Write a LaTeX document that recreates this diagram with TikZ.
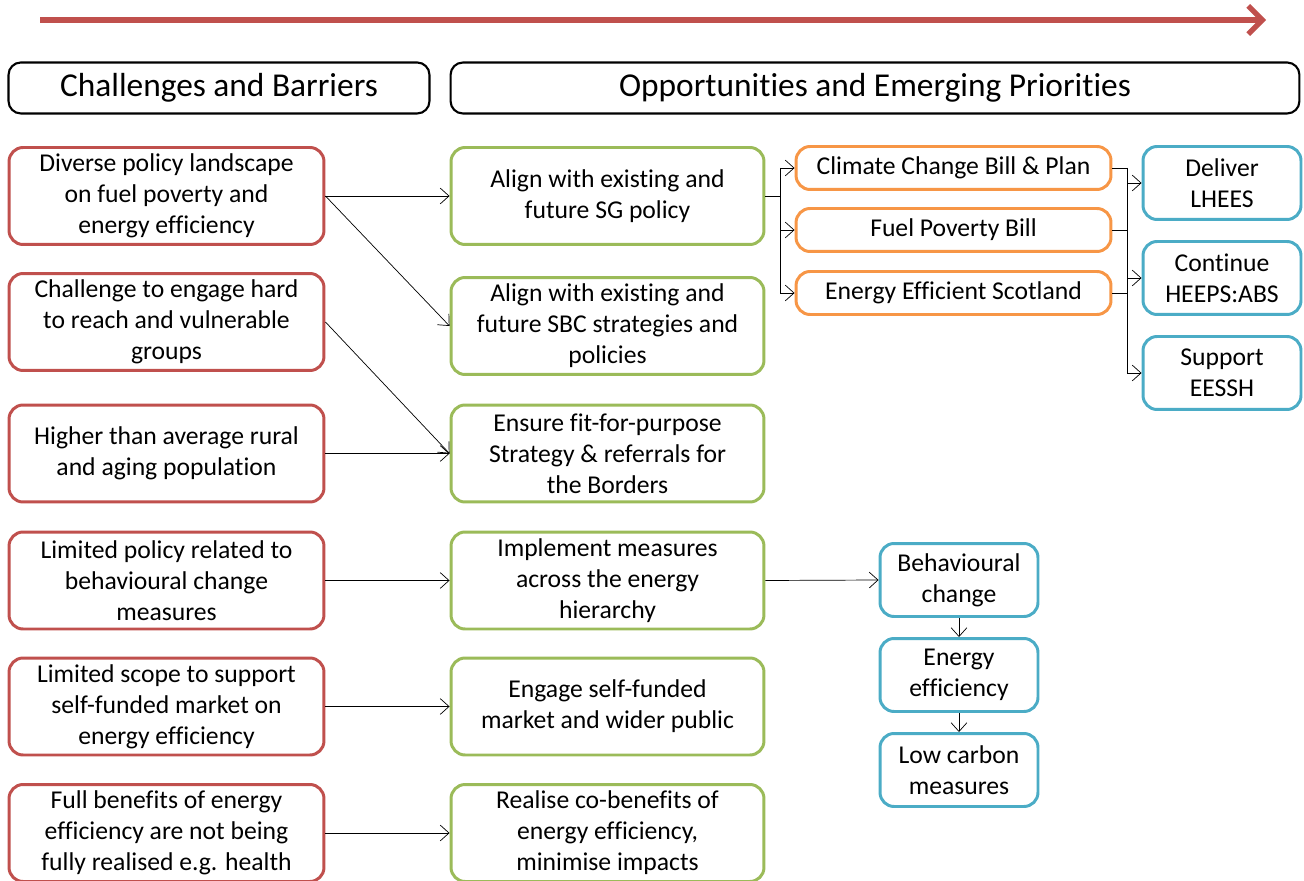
\documentclass[tikz,border=0pt]{standalone}
\usepackage{fontspec}
\setmainfont{Carlito}[Ligatures=NoCommon]
\usepackage{xcolor}
\usetikzlibrary{arrows.meta}

\definecolor{barrier}{RGB}{192,80,77}
\definecolor{priority}{RGB}{155,187,89}
\definecolor{policy}{RGB}{247,150,70}
\definecolor{action}{RGB}{75,172,198}

\tikzset{
    box/.style={draw, rounded corners=8pt, line width=1.7pt, fill=white, align=center, inner sep=2pt,
        font=\fontsize{14.6}{17.6}\selectfont},
    redbox/.style={box, draw=barrier, minimum width=6.3cm, minimum height=1.94cm},
    greenbox/.style={box, draw=priority, minimum width=6.26cm, minimum height=1.94cm},
    orangebox/.style={box, draw=policy, minimum width=6.3cm, minimum height=0.86cm},
    bluebox/.style={box, draw=action, minimum width=3.16cm, minimum height=1.46cm},
    headbox/.style={draw, rounded corners=7pt, line width=1.2pt, minimum height=1.02cm,
        font=\fontsize{19}{22}\selectfont},
    link/.style={thin, -{Straight Barb[length=5pt,width=9pt]}}
}

\begin{document}
\begin{tikzpicture}[x=0.02cm, y=-0.02cm]
        \useasboundingbox (0,0) rectangle (1304,881);

        \draw[line width=3.2pt, barrier, -{Straight Barb[length=8pt,width=16pt,line width=3pt]}] (40,20) -- (1266,20);

        \node[headbox, minimum width=8.42cm] (challenges) at (219,88) {Challenges and Barriers};
        \node[headbox, minimum width=16.98cm] (opportunities) at (875,88) {Opportunities and Emerging Priorities};

        % challenges and barriers
        \node[redbox] (landscape) at (166.5,196) {Diverse policy landscape\\on fuel poverty and\\energy efficiency};
        \node[redbox] (engage) at (166.5,322) {Challenge to engage hard\\to reach and vulnerable\\groups};
        \node[redbox] (rural) at (166.5,453.5) {Higher than average rural\\and aging population};
        \node[redbox] (behaviour) at (166.5,580.5) {Limited policy related to\\behavioural change\\measures};
        \node[redbox] (scope) at (166.5,706.5) {Limited scope to support\\self-funded market on\\energy efficiency};
        \node[redbox] (benefits) at (166.5,833) {Full benefits of energy\\efficiency are not being\\fully realised e.g. health};

        % opportunities
        \node[greenbox] (sg) at (607.5,196) {Align with existing and\\future SG policy};
        \node[greenbox] (sbc) at (607.5,326) {Align with existing and\\future SBC strategies and\\policies};
        \node[greenbox] (borders) at (607.5,453.5) {Ensure fit-for-purpose\\Strategy \& referrals for\\the Borders};
        \node[greenbox] (hierarchy) at (607.5,580.5) {Implement measures\\across the energy\\hierarchy};
        \node[greenbox] (market) at (607.5,706.5) {Engage self-funded\\market and wider public};
        \node[greenbox] (cobenefits) at (607.5,833) {Realise co-benefits of\\energy efficiency,\\minimise impacts};

        \node[orangebox] (climate) at (953.5,168) {Climate Change Bill \& Plan};
        \node[orangebox] (fuel) at (953.5,230) {Fuel Poverty Bill};
        \node[orangebox] (ees) at (953.5,293) {Energy Efficient Scotland};

        \node[bluebox] (lhees) at (1222,183) {Deliver\\LHEES};
        \node[bluebox] (heeps) at (1222,278) {Continue\\HEEPS:ABS};
        \node[bluebox] (eessh) at (1222,373) {Support\\EESSH};

        \node[bluebox] (change) at (959,580) {Behavioural\\change};
        \node[bluebox] (efficiency) at (959,675) {Energy\\efficiency};
        \node[bluebox] (carbon) at (959,770) {Low carbon\\measures};

        \draw[link] (landscape.east) -- (sg.west);
        \draw[link] (landscape.east) -- (sbc.west);
        \draw[link] (engage.east) -- (borders.west);
        \draw[link] (rural.east) -- (borders.west);
        \draw[link] (behaviour.east) -- (hierarchy.west);
        \draw[link] (scope.east) -- (market.west);
        \draw[link] (benefits.east) -- (cobenefits.west);

        \draw (sg.east) -- ++(15,0) coordinate (split);
        \draw (split |- climate.west) -- (split |- ees.west);
        \draw[link] (split |- climate.west) -- (climate.west);
        \draw[link] (split |- fuel.west) -- (fuel.west);
        \draw[link] (split |- ees.west) -- (ees.west);

        \draw (climate.east) -- ++(15,0) coordinate (merge);
        \draw (fuel.east) -- (merge |- fuel.east);
        \draw (ees.east) -- (merge |- ees.east);
        \draw (merge) -- (merge |- eessh.west);
        \draw[link] (merge |- lhees.west) -- (lhees.west);
        \draw[link] (merge |- heeps.west) -- (heeps.west);
        \draw[link] (merge |- eessh.west) -- (eessh.west);

        \draw[link] (hierarchy.east) -- (change.west);
        \draw[link] (change.south) -- (efficiency.north);
        \draw[link] (efficiency.south) -- (carbon.north);
    \end{tikzpicture}
\end{document}
